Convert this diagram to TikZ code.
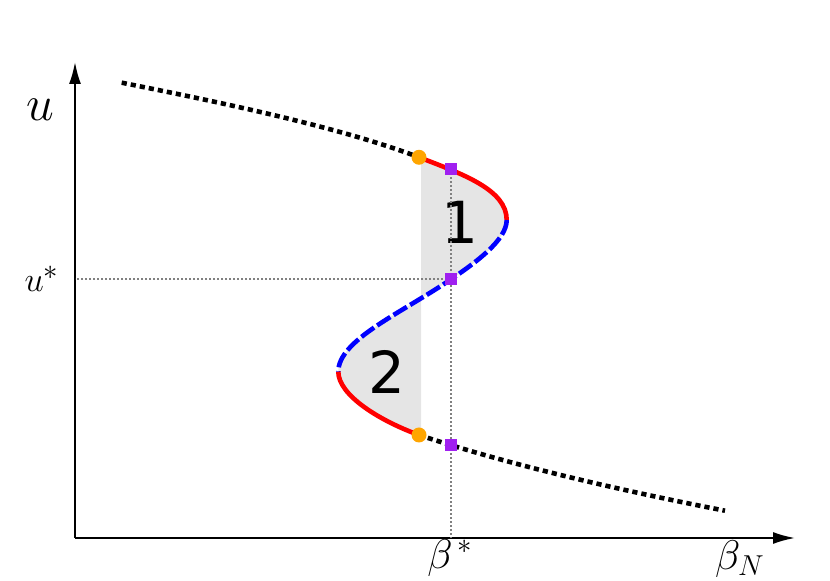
\documentclass[tikz,border=0pt]{standalone}
\usepackage{fontspec}
\usetikzlibrary{arrows.meta}
\newfontfamily\digitfont{DejaVu Sans}
\definecolor{markorange}{RGB}{255,165,0}
\definecolor{markpurple}{RGB}{160,32,240}

\begin{document}
\begin{tikzpicture}[x=0.5pt, y=-0.5pt, >={Latex[length=11pt,width=6pt]},
  axis/.style={->, line width=1pt},
  guide/.style={gray, line width=0.8pt, dash pattern=on 0.8pt off 1.2pt},
  outer/.style={line width=2.3pt, dash pattern=on 2.6pt off 2pt},
  stable/.style={red, line width=2.3pt},
  unstable/.style={blue, line width=2.3pt, dash pattern=on 7.8pt off 1.9pt},
  ptcirc/.style={circle, fill=markorange, inner sep=0pt, minimum size=7.5pt},
  ptsq/.style={rectangle, fill=markpurple, inner sep=0pt, minimum size=5.8pt}]
  \useasboundingbox (0,0) rectangle (830,581);
  % axes
  \coordinate (origin) at (75,538);
  \coordinate (ytip) at (75,62);
  \coordinate (xtip) at (795,538);
  \draw[axis] (origin) -- (ytip);
  \draw[axis] (origin) -- (xtip);
  \node (ulabel) at (40,110) {\fontsize{28}{30}\selectfont $u$};
  \node (ustar) at (42,279) {\fontsize{19}{20}\selectfont $u^*$};
  \node (bstar) at (450,558) {\fontsize{20}{22}\selectfont $\beta^{\,*}$};
  \node (bN) at (740,559) {\fontsize{20}{22}\selectfont $\beta_N$};
  % points on the curve
  \coordinate (ustart) at (121.7,82.7);
  \coordinate (foldtop) at (419,157.3);
  \coordinate (turnR) at (506.7,220);
  \coordinate (sqmid) at (451,279.3);
  \coordinate (turnL) at (338.3,371.7);
  \coordinate (foldbot) at (419,435);
  \coordinate (lend) at (725,510.7);
  \coordinate (sqtop) at (451,169.3);
  \coordinate (sqbot) at (451,445);
  % shaded areas
  \fill[black!10] (421,157.3) -- (foldtop) .. controls (464,174.5) and (506.7,190) .. (turnR)
    .. controls (506.7,240) and (476,262.3) .. (sqmid)
    .. controls (401,313.3) and (338.3,340) .. (turnL)
    .. controls (338.3,395) and (379,420.5) .. (foldbot) -- (421,435) -- cycle;
  % branches
  \draw[outer] (ustart) .. controls (220,102.3) and (339,126.9) .. (foldtop);
  \draw[stable] (foldtop) .. controls (464,174.5) and (506.7,190) .. (turnR);
  \draw[unstable] (turnR) .. controls (506.7,240) and (476,262.3) .. (sqmid)
    .. controls (401,313.3) and (338.3,340) .. (turnL);
  \draw[stable] (turnL) .. controls (338.3,395) and (379,420.5) .. (foldbot);
  \draw[outer] (foldbot) .. controls (519,468) and (635,493.2) .. (lend);
  \node (one) at (460,222) {\digitfont\fontsize{29}{30}\selectfont 1};
  \node (two) at (387,372) {\digitfont\fontsize{29}{30}\selectfont 2};
  % special points
  \draw[guide] (sqtop) -- (sqtop |- origin);
  \draw[guide] (sqmid) -- (origin |- sqmid);
  \node[ptcirc] at (foldtop) {};
  \node[ptcirc] at (foldbot) {};
  \foreach \p in {sqtop, sqmid, sqbot}
    \node[ptsq] at (\p) {};
\end{tikzpicture}
\end{document}
